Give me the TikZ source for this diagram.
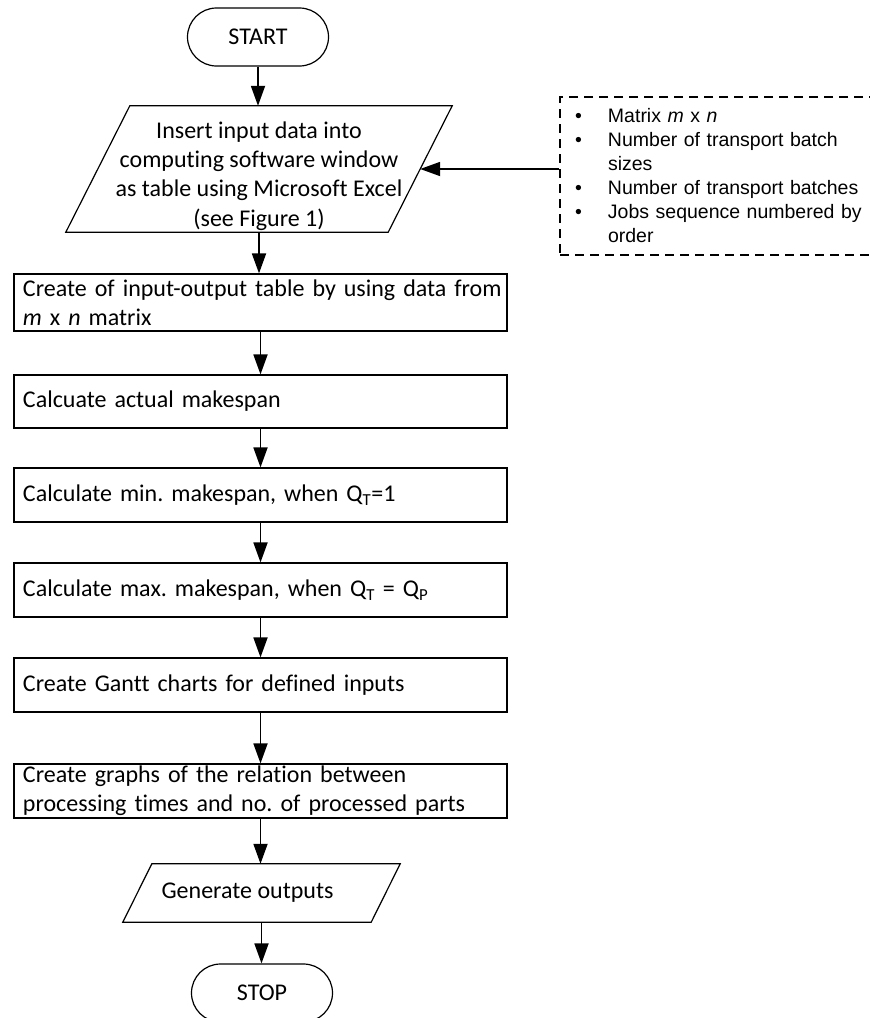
\documentclass[tikz,border=0pt]{standalone}
\usepackage{fontspec}
\setmainfont{Carlito}[Ligatures=NoCommon]
\newfontfamily\arialfont{Liberation Sans}[Ligatures=NoCommon]
\usetikzlibrary{arrows.meta,shapes.misc,calc}
\frenchspacing
\begin{document}
\begin{tikzpicture}[x=1pt,y=-1pt,
  every node/.style={font=\fontsize{24}{29.3}\selectfont},
  procbox/.style={draw, line width=1.2pt, minimum width=493pt, text width=475pt, inner xsep=9pt, inner ysep=0pt, align=left},
  term/.style={draw, line width=1.2pt, rounded rectangle, minimum width=141pt, minimum height=58pt, inner sep=0pt},
  iobox/.style={inner sep=0pt},
  frame/.style={line width=1.2pt, line join=miter},
  arr/.style={line width=1.8pt, -{Triangle[length=20pt,width=14pt]}},
  notebox/.style={draw, dash pattern=on 9pt off 6pt, line width=1.1pt, minimum width=320pt, minimum height=158pt, text width=290pt, inner xsep=15pt, inner ysep=0pt, align=left, font=\arialfont\fontsize{19.5}{24}\selectfont}
]
\useasboundingbox (0,0) rectangle (870,1018);

\node[term] (start) at (258,37) {START};

\node[iobox, minimum width=322pt, minimum height=126pt] (inp) at (259,169) {};
\draw[frame] ($(inp.north west)+(32,0)$) -- ($(inp.north east)+(32,0)$) -- ($(inp.south east)+(-32,0)$) -- ($(inp.south west)+(-32,0)$) -- cycle;
\node[iobox, align=center] (inptext) at ($(inp.center)+(0,7)$)
  {Insert input data into\\computing software window\\as table using Microsoft Excel\\(see Figure 1)};

\node[notebox] (notes) at (720,176)
  {\makebox[33pt][l]{•}Matrix \textit{m} x \textit{n}\\
   \makebox[33pt][l]{•}Number of transport batch\\
   \hspace*{33pt}sizes\\
   \makebox[33pt][l]{•}Number of transport batches\\
   \makebox[33pt][l]{•}Jobs sequence numbered by\\
   \hspace*{33pt}order};

\node[procbox, minimum height=57pt] (create) at (260.5,302.5) {\mbox{Create of input-output table by using data from}\\\textit{m} x \textit{n} matrix};
\node[procbox, minimum height=53pt] (actual) at (260.5,401.5) {Calcuate actual makespan};
\node[procbox, minimum height=54pt] (mink) at (260.5,495) {Calculate min. makespan, when Q\textsubscript{T}=1};
\node[procbox, minimum height=54pt] (maxk) at (260.5,590) {Calculate max. makespan, when Q\textsubscript{T} = Q\textsubscript{P}};
\node[procbox, minimum height=54pt] (gantt) at (260.5,685) {Create Gantt charts for defined inputs};
\node[procbox, minimum height=54pt] (graphs) at (260.5,791) {\mbox{Create graphs of the relation between}\\\mbox{processing times and no. of processed parts}};

\node[iobox, minimum width=248pt, minimum height=58pt] (out) at (261.5,893) {Generate outputs\kern28pt};
\draw[frame] ($(out.north west)+(14.5,0)$) -- ($(out.north east)+(14.5,0)$) -- ($(out.south east)+(-14.5,0)$) -- ($(out.south west)+(-14.5,0)$) -- cycle;

\node[term] (stop) at (262,993) {STOP};

\draw[arr] (start.south) -- (start.south |- inp.north);
\draw[arr] (inp.south) -- (inp.south |- create.north);
\draw[arr] (create.south) -- (actual.north);
\draw[arr] (actual.south) -- (mink.north);
\draw[arr] (mink.south) -- (maxk.north);
\draw[arr] (maxk.south) -- (gantt.north);
\draw[arr] (gantt.south) -- (graphs.north);
\draw[arr] (graphs.south) -- (graphs.south |- out.north);
\draw[arr] (out.south) -- (out.south |- stop.north);
\draw[arr] (notes.west |- inp.east) -- (inp.east);
\end{tikzpicture}
\end{document}
